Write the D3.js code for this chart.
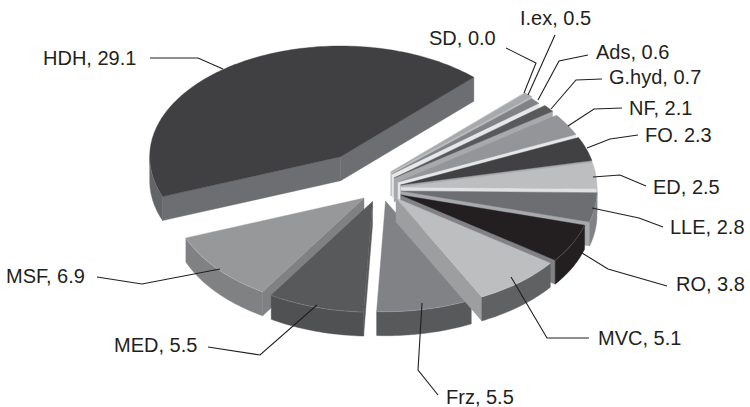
<!DOCTYPE html>
<html><head><meta charset="utf-8">
<script src="https://d3js.org/d3.v7.min.js"></script>
<style>html,body{margin:0;padding:0;background:#fff}svg{display:block}</style>
</head><body><div id="c"></div>
<script>
const categories = ["SD","I.ex","Ads","G.hyd","NF","FO","ED","LLE","RO","MVC","Frz","MED","MSF","HDH"];
const values = [0.04,0.5,0.6,0.7,2.1,2.3,2.5,2.8,3.8,5.1,5.5,5.5,6.9,29.1];
const labels = ["SD, 0.0","I.ex, 0.5","Ads, 0.6","G.hyd, 0.7","NF, 2.1","FO. 2.3","ED, 2.5","LLE, 2.8","RO, 3.8","MVC, 5.1","Frz, 5.5","MED, 5.5","MSF, 6.9","HDH, 29.1"];
const topColors = ["#d1d3d4","#a7a9ac","#808285","#58595b","#939598","#414042","#bcbec0","#6d6e71","#231f20","#bcbec0","#808285","#58595b","#97989a","#404042"];
const outerColors = ["#d1d3d4","#a7a9ac","#808285","#58595b","#939598","#414042","#a7a9ac","#808285","#231f20","#606163","#58595b","#505153","#808183","#636466"];
const radialColors = ["#d1d3d4","#bcbec0","#e6e7e8","#a7a9ac","#e6e7e8","#a7a9ac","#e0e1e2","#a7a9ac","#808285","#9c9ea0","#808285","#58595b","#808183","#6d6e71"];
const apexX = [390.5,391,392,394,398,400.5,401,401,400.8,396,385.5,372.5,364,340.7];
const apexY = [172,172,174,178,182,185,187,191,195,198,201,201.5,198,156.7];
const radiusX = [192,192,191,196,196,196,196,196,191,191,191,191,191,191];
const radiusY = [110.7,110.7,110.7,113.6,113.6,113.6,113.6,113.6,110.7,110.7,110.7,110.7,110.7,110.7];
const labelX = [429,520,596,609,629,645,653,670,676,598,446,114,6,43];
const labelY = [45,25,59,84,115,142,194,234,291,345,404,352,283,65];
const leaders = [
 [[506,48],[536,63],[524,93]],
 [[555,35],[528,95]],
 [[588,55],[559,61],[538,100]],
 [[602,79],[576,80],[551,109]],
 [[622,108],[594,109],[568,126]],
 [[638,135],[610,139],[587,148]],
 [[646,186],[620,175],[593,177]],
 [[663,227],[639,218],[592,208]],
 [[667,286],[608,269],[582,253]],
 [[589,338],[547,338],[511,277]],
 [[438,395],[418,370],[422,303]],
 [[208,347],[260,355],[317,305]],
 [[97,277],[142,284],[220,269]],
 [[150,58],[198,58],[223,69]]
];
const depth = 24;
const paintOrder = [13,0,1,2,3,4,5,6,7,8,12,11,10,9];

const W = 750, H = 407;
const svg = d3.select("#c").append("svg").attr("width",W).attr("height",H);
const start = 44.2*Math.PI/180;
const arcs = d3.pie().sort(null).startAngle(start).endAngle(start+2*Math.PI)(values);
const line = d3.line();

function pt(i,a,dy=0){
  return [apexX[i]+radiusX[i]*Math.sin(a), apexY[i]-radiusY[i]*Math.cos(a)+dy];
}
function arcPts(i,a0,a1,dy=0){
  const n = Math.max(2,Math.ceil(Math.abs(a1-a0)/0.02));
  return d3.range(n+1).map(k=>pt(i,a0+(a1-a0)*k/n,dy));
}
paintOrder.forEach(i=>{
  const d = arcs[i], a0 = d.startAngle, a1 = d.endAngle;
  const g = svg.append("g").attr("class","slice").attr("data-cat",categories[i]);
  const apex=[apexX[i],apexY[i]], apexB=[apexX[i],apexY[i]+depth];
  const radial=(a,col)=>g.append("path")
    .attr("d",line([apex,pt(i,a),pt(i,a,depth),apexB])+"Z")
    .attr("fill",col).attr("stroke",col).attr("stroke-width",0.4);
  if(Math.sin(a0)<0) radial(a0,radialColors[i]);
  if(Math.sin(a1)>0) radial(a1,radialColors[i]);
  const s=Math.max(a0,Math.PI/2), e=Math.min(a1,3*Math.PI/2);
  if(e>s){
    g.append("path").attr("d",line(arcPts(i,s,e).concat(arcPts(i,e,s,depth)))+"Z")
     .attr("fill",outerColors[i]).attr("stroke",outerColors[i]).attr("stroke-width",0.4);
  }
  g.append("path").attr("d",line([apex].concat(arcPts(i,a0,a1)))+"Z")
   .attr("fill",topColors[i]).attr("stroke",topColors[i]).attr("stroke-width",0.4);
  if(e>s){
    g.append("path").attr("d",line(arcPts(i,s,e))).attr("fill","none")
     .attr("stroke","#fff").attr("stroke-opacity",0.22).attr("stroke-width",0.7);
  }
});
svg.append("g").selectAll("path").data(leaders).join("path")
  .attr("d",d=>line(d)).attr("fill","none").attr("stroke","#231f20").attr("stroke-width",1.1);
svg.append("g").selectAll("text").data(labels).join("text")
  .attr("x",(d,i)=>labelX[i]).attr("y",(d,i)=>labelY[i])
  .attr("font-family","'Liberation Sans',Arial,sans-serif").attr("font-size",20).attr("fill","#231f20")
  .text(d=>d);
</script></body></html>
